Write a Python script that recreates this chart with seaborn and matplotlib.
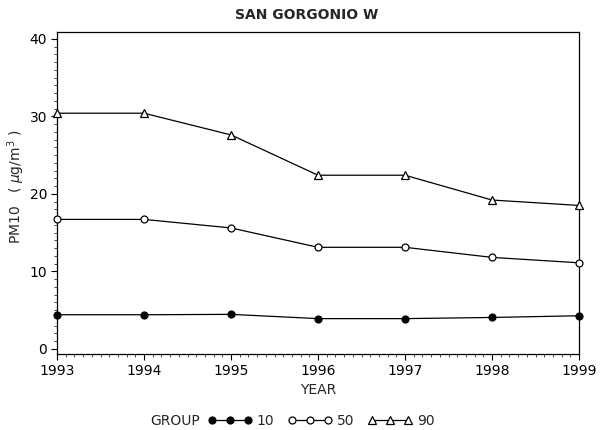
import matplotlib
matplotlib.use("Agg")
import matplotlib.pyplot as plt
import seaborn as sns
import pandas as pd
from matplotlib.ticker import MultipleLocator

years = [1993, 1994, 1995, 1996, 1997, 1998, 1999]
group_labels = ["10", "50", "90"]
p10 = [4.4, 4.4, 4.45, 3.9, 3.9, 4.05, 4.27]
p50 = [16.7, 16.7, 15.6, 13.1, 13.1, 11.8, 11.1]
p90 = [30.4, 30.4, 27.6, 22.4, 22.4, 19.2, 18.5]
y_ticks = [0, 10, 20, 30, 40]

sns.set_theme(style="ticks")
plt.rcParams['font.family'] = ['DejaVu Sans']

df = pd.DataFrame({
    "year": years * 3,
    "pm10": p10 + p50 + p90,
    "group": [g for g in group_labels for _ in years],
})

fig = plt.figure(figsize=(6, 4.3), dpi=100)
ax = fig.add_axes([0.095, 0.177, 0.87, 0.749])

styles = {
    "10": dict(marker="o", markerfacecolor="black", markersize=5),
    "50": dict(marker="o", markerfacecolor="white", markersize=5),
    "90": dict(marker="^", markerfacecolor="white", markersize=5.5),
}
for g in group_labels:
    sub = df[df["group"] == g]
    sns.lineplot(data=sub, x="year", y="pm10", ax=ax, color="black",
                 linewidth=0.9, markeredgecolor="black", markeredgewidth=0.9,
                 label=g, legend=False, clip_on=False, zorder=3, **styles[g])

ax.set_xlim(1993, 1999)
ax.set_ylim(-0.65, 40.9)
ax.set_xticks(years)
ax.set_xticklabels([str(y) for y in years])
ax.set_yticks(y_ticks)
ax.xaxis.set_minor_locator(MultipleLocator(0.1))
ax.yaxis.set_minor_locator(MultipleLocator(1))
ax.tick_params(axis="both", which="major", direction="out", length=4, width=0.8,
               labelsize=10, colors="black", pad=3)
ax.tick_params(axis="both", which="minor", direction="out", length=2, width=0.6)
for sp in ax.spines.values():
    sp.set_visible(True)
    sp.set_color("black")
    sp.set_linewidth(0.9)

ax.set_xlabel("YEAR", fontsize=10, labelpad=4)
ax.set_ylabel(r"PM10   ( $\mu$g/m$^3$ )", fontsize=10, va="center", ha="center")
ax.yaxis.set_label_coords(-0.078, 0.52)

fig.text(307 / 600, 1 - 15 / 430, "SAN GORGONIO W", ha="center", va="center",
         fontsize=10, fontweight="bold")

fig.text(150 / 600, 1 - 421 / 430, "GROUP", ha="left", va="center", fontsize=10)
handles = ax.get_lines()
leg = fig.legend(handles=handles, labels=group_labels, loc="center left",
                 bbox_to_anchor=(208 / 600, 1 - 421 / 430), ncol=3, frameon=False,
                 numpoints=3, handlelength=3.2, handletextpad=0.3,
                 columnspacing=1.0, fontsize=10, borderaxespad=0, borderpad=0)

fig.savefig("out.png", dpi=100)
